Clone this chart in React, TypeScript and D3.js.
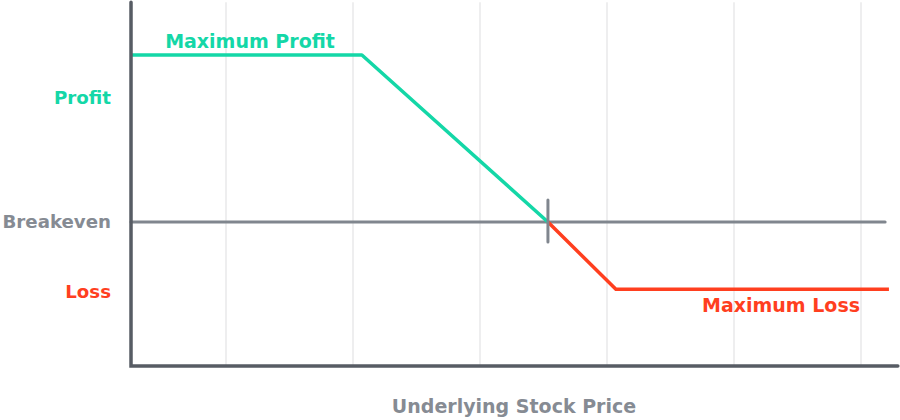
import React, { useEffect } from 'react'
import * as d3 from 'd3'

// price axis runs in abstract units, one grid step per unit
const gridPrices = [1, 2, 3, 4, 5, 6]
const payoffPrices = [0.25, 2.07, 3.535, 4.07, 6.22]
const payoffValues = [1.315, 1.315, 0, -0.53, -0.53]
const breakevenPrice = 3.535
const yLabels = ['Profit', 'Breakeven', 'Loss']
const yLabelValues = [0.98, 0, -0.545]

const width = 900
const height = 420
const green = '#14d7a7'
const red = '#ff3f1f'
const axisGray = '#575c64'
const lineGray = '#80868e'
const textGray = '#868b93'
const font = '"DejaVu Sans", "Open Sans", sans-serif'
const fontSize = 19

const x = d3.scaleLinear().domain([0, 1]).range([99, 226])
const y = d3.scaleLinear().domain([0, 1]).range([222, 95])

export default function App() {
  useEffect(() => {
    document.body.style.margin = '0'
  }, [])

  const pts: [number, number][] = payoffPrices.map((p, i) => [p, payoffValues[i]])
  const profitPts = pts.filter((d) => d[1] >= 0)
  const lossPts = pts.filter((d) => d[1] <= 0)
  const line = d3
    .line<[number, number]>()
    .x((d) => x(d[0]))
    .y((d) => y(d[1]))

  const axisLeft = x(0.252)
  const axisRight = x(6.29)
  const axisTop = y(1.73)
  const axisBottom = y(-1.134)
  const labelColors = [green, textGray, red]

  return (
    <svg width={width} height={height} style={{ display: 'block' }} fontFamily={font} fontWeight={700}>
      {gridPrices.map((p) => (
        <line key={p} x1={x(p)} x2={x(p)} y1={axisTop} y2={axisBottom} stroke="#e9e9ea" strokeWidth={1.5} />
      ))}
      <line x1={axisLeft} x2={x(6.19)} y1={y(0)} y2={y(0)} stroke={lineGray} strokeWidth={3} strokeLinecap="round" />
      <path d={line(profitPts) || ''} fill="none" stroke={green} strokeWidth={3.5} strokeLinejoin="round" />
      <path d={line(lossPts) || ''} fill="none" stroke={red} strokeWidth={3.5} strokeLinejoin="round" />
      <line
        x1={x(breakevenPrice)}
        x2={x(breakevenPrice)}
        y1={y(0) - 22}
        y2={y(0) + 20}
        stroke={lineGray}
        strokeWidth={3}
        strokeLinecap="round"
      />
      <path
        d={`M${axisLeft},${axisTop}V${axisBottom}H${axisRight}`}
        fill="none"
        stroke={axisGray}
        strokeWidth={3.5}
        strokeLinecap="round"
      />
      {yLabels.map((t, i) => (
        <text
          key={t}
          x={111}
          y={y(yLabelValues[i])}
          dy="0.35em"
          textAnchor="end"
          fontSize={18.2}
          fill={labelColors[i]}
        >
          {t}
        </text>
      ))}
      <text x={250} y={y(1.315) - 7} textAnchor="middle" fontSize={fontSize} fill={green}>
        Maximum Profit
      </text>
      <text x={860} y={y(-0.53) + 23} textAnchor="end" fontSize={fontSize} fill={red}>
        Maximum Loss
      </text>
      <text x={514} y={413} textAnchor="middle" fontSize={fontSize} fill={textGray}>
        Underlying Stock Price
      </text>
    </svg>
  )
}
